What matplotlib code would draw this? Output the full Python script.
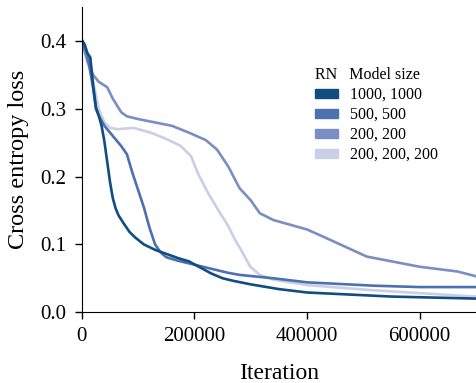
import matplotlib
matplotlib.use("Agg")
import matplotlib.pyplot as plt
from matplotlib.patches import Patch

plt.rcParams["font.family"] = ["Liberation Serif", "DejaVu Serif"]

# 1000, 1000
it_a = [0, 5000, 10000, 15000, 20000, 25000, 30000, 35000, 40000, 45000, 50000,
        55000, 60000, 65000, 75000, 85000, 95000, 110000, 130000, 150000, 170000,
        190000, 210000, 230000, 250000, 270000, 300000, 350000, 400000, 450000,
        500000, 550000, 600000, 650000, 700000]
loss_a = [0.402, 0.395, 0.382, 0.376, 0.335, 0.302, 0.29, 0.275, 0.252, 0.222, 0.192,
          0.168, 0.153, 0.143, 0.13, 0.118, 0.11, 0.1, 0.092, 0.086, 0.08,
          0.075, 0.066, 0.057, 0.05, 0.046, 0.041, 0.034, 0.029, 0.027,
          0.025, 0.023, 0.022, 0.021, 0.020]

# 500, 500
it_b = [0, 10000, 20000, 25000, 30000, 40000, 55000, 70000, 80000, 90000, 100000,
        110000, 120000, 130000, 140000, 150000, 170000, 200000, 230000, 260000,
        280000, 340000, 400000, 520000, 600000, 700000]
loss_b = [0.40, 0.38, 0.33, 0.30, 0.29, 0.275, 0.26, 0.245, 0.233, 0.205, 0.18,
          0.155, 0.125, 0.1, 0.088, 0.081, 0.076, 0.07, 0.064, 0.058,
          0.055, 0.05, 0.044, 0.039, 0.037, 0.037]

# 200, 200
it_c = [0, 10000, 20000, 30000, 45000, 55000, 70000, 80000, 100000, 130000, 160000,
        190000, 220000, 240000, 260000, 280000, 300000, 316000, 340000, 400000,
        435000, 506000, 600000, 667000, 700000]
loss_c = [0.40, 0.37, 0.35, 0.34, 0.332, 0.315, 0.295, 0.289, 0.285, 0.28, 0.275,
          0.265, 0.254, 0.24, 0.215, 0.183, 0.165, 0.146, 0.136, 0.122,
          0.109, 0.082, 0.067, 0.06, 0.053]

# 200, 200, 200
it_d = [0, 10000, 20000, 30000, 40000, 50000, 63000, 92000, 122000, 152000, 176000,
        194000, 206000, 224000, 242000, 260000, 272000, 284000, 299000, 316000,
        340000, 400000, 506000, 600000, 700000]
loss_d = [0.40, 0.37, 0.34, 0.30, 0.28, 0.272, 0.27, 0.272, 0.265, 0.255, 0.245,
          0.23, 0.205, 0.176, 0.151, 0.127, 0.107, 0.09, 0.067, 0.055,
          0.048, 0.04, 0.033, 0.028, 0.023]

labels = ["1000, 1000", "500, 500", "200, 200", "200, 200, 200"]
colors = ["#114d82", "#4d70b0", "#7a8ec4", "#c8cfe6"]

fig = plt.figure(figsize=(4.76, 3.83), dpi=100)
ax = fig.add_axes([0.172, 0.185, 0.828, 0.796])

series = [(it_a, loss_a), (it_b, loss_b), (it_c, loss_c), (it_d, loss_d)]
for (x, y), c in reversed(list(zip(series, colors))):
    ax.plot(x, y, color=c, lw=1.9)

ax.set_xlim(0, 700000)
ax.set_ylim(0, 0.45)
ax.set_xticks([0, 200000, 400000, 600000])
ax.set_xticklabels(["0", "200000", "400000", "600000"])
ax.set_yticks([0.0, 0.1, 0.2, 0.3, 0.4])
ax.set_yticklabels(["0.0", "0.1", "0.2", "0.3", "0.4"])
ax.tick_params(labelsize=15, length=5, width=1, pad=6)
ax.spines["top"].set_visible(False)
ax.spines["right"].set_visible(False)
ax.set_xlabel("Iteration", fontsize=17, labelpad=12)
ax.set_ylabel("Cross entropy loss", fontsize=17.5, labelpad=8)

handles = [Patch(color=c) for c in colors]
leg = ax.legend(handles, labels, title="RN   Model size", loc="upper left",
                bbox_to_anchor=(0.572, 0.83), frameon=False, fontsize=11.5,
                title_fontsize=11.5, handlelength=1.45, handleheight=0.5,
                handletextpad=0.75, labelspacing=0.25, borderpad=0,
                alignment="left")

fig.savefig("out.png", dpi=100)
